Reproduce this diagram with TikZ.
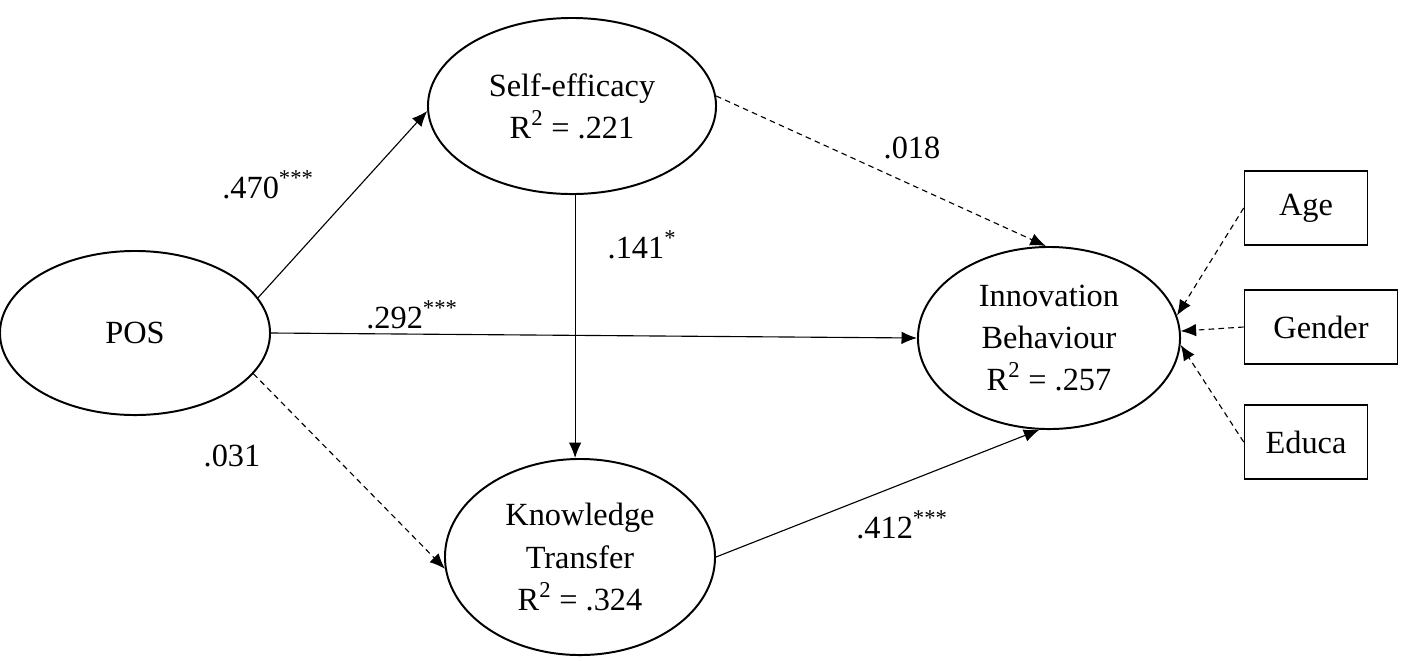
\documentclass[tikz,border=0pt]{standalone}
\usepackage{fontspec}
\setmainfont{Liberation Serif}
\usetikzlibrary{shapes.geometric,arrows.meta}
\begin{document}
\begin{tikzpicture}[x=0.025cm,y=-0.025cm,
  every node/.style={font=\fontsize{23}{30}\selectfont},
  latent/.style={ellipse,draw,line width=1.4pt,inner sep=0pt,align=center},
  obs/.style={rectangle,draw,line width=1pt,minimum height=1.85cm,align=center},
  path/.style={line width=0.8pt,-{Latex[length=11pt,width=9pt]}},
  dpath/.style={path,dashed,dash pattern=on 4pt off 3pt},
  lbl/.style={inner sep=0pt}]
\useasboundingbox (0,0) rectangle (1403,660);
\node[latent,minimum width=6.75cm,minimum height=4.1cm] (pos) at (135,333) {POS};
\node[latent,minimum width=7.2cm,minimum height=4.4cm] (self) at (572,106) {Self-efficacy\\R\textsuperscript{2} = .221};
\node[latent,minimum width=6.75cm,minimum height=4.9cm] (kt) at (580,557) {Knowledge\\Transfer\\R\textsuperscript{2} = .324};
\node[latent,minimum width=6.55cm,minimum height=4.55cm] (ib) at (1049,338) {Innovation\\Behaviour\\R\textsuperscript{2} = .257};
\node[obs,minimum width=3.08cm] (age) at (1306,208) {Age};
\node[obs,minimum width=3.83cm] (gender) at (1321,327) {Gender};
\node[obs,minimum width=3.08cm] (educa) at (1306,442) {Educa};
\draw[path] (pos.16) -- (self.182);
\draw[dpath] (self.4) -- (ib.92);
\draw[path] (self.-88) -- (self.-88 |- kt.north);
\draw[path] (pos.east) -- (ib.west);
\draw[dpath] (pos.-19) -- (kt.185);
\draw[path] (kt.0) -- (ib.-96);
\draw[dpath] (age.west) -- (ib.10);
\draw[dpath] (gender.west) -- (ib.3);
\draw[dpath] (educa.west) -- (ib.-3);
\node[lbl] (l1) at (268,185) {.470\textsuperscript{***}};
\node[lbl] (l2) at (912,148) {.018};
\node[lbl] (l3) at (642,245) {.141\textsuperscript{*}};
\node[lbl] (l4) at (412,315) {.292\textsuperscript{***}};
\node[lbl] (l5) at (232,456) {.031};
\node[lbl] (l6) at (902,525) {.412\textsuperscript{***}};
\end{tikzpicture}
\end{document}
